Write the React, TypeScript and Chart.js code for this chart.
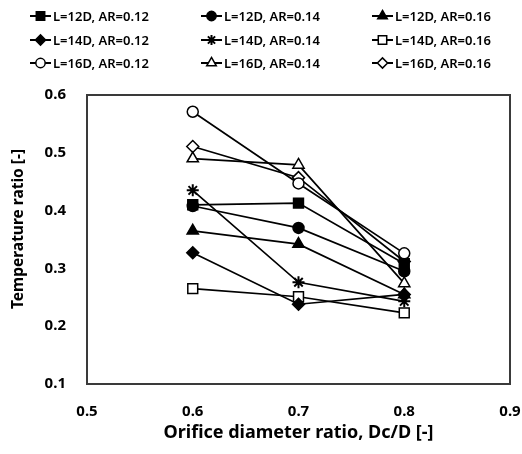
import React, { useEffect, useRef } from 'react';
import { Chart, registerables } from 'chart.js';
import { drawPoint } from 'chart.js/helpers';

Chart.register(...registerables);

// Orifice diameter ratio, Dc/D
const xValues = [0.6, 0.7, 0.8];

const seriesLabels = [
  'L=12D, AR=0.12',
  'L=12D, AR=0.14',
  'L=12D, AR=0.16',
  'L=14D, AR=0.12',
  'L=14D, AR=0.14',
  'L=14D, AR=0.16',
  'L=16D, AR=0.12',
  'L=16D, AR=0.14',
  'L=16D, AR=0.16',
];

const l12ar12 = [0.410, 0.413, 0.308];
const l12ar14 = [0.408, 0.370, 0.295];
const l12ar16 = [0.365, 0.342, 0.255];
const l14ar12 = [0.327, 0.238, 0.255];
const l14ar14 = [0.435, 0.276, 0.243];
const l14ar16 = [0.265, 0.251, 0.223];
const l16ar12 = [0.571, 0.447, 0.326];
const l16ar14 = [0.490, 0.479, 0.274];
const l16ar16 = [0.511, 0.457, 0.312];

const seriesValues = [l12ar12, l12ar14, l12ar16, l14ar12, l14ar14, l14ar16, l16ar12, l16ar14, l16ar16];

const xTicks = [0.5, 0.6, 0.7, 0.8, 0.9];
const yTicks = [0.1, 0.2, 0.3, 0.4, 0.5, 0.6];

const xTitle = 'Orifice diameter ratio, Dc/D [-]';
const yTitle = 'Temperature ratio [-]';

const markers = [
  { style: 'rect', filled: true, radius: 7 },
  { style: 'circle', filled: true, radius: 5.5 },
  { style: 'triangle', filled: true, radius: 6.5 },
  { style: 'rectRot', filled: true, radius: 6 },
  { style: 'star', filled: false, radius: 6 },
  { style: 'rect', filled: false, radius: 7 },
  { style: 'circle', filled: false, radius: 5.5 },
  { style: 'triangle', filled: false, radius: 6.5 },
  { style: 'rectRot', filled: false, radius: 6 },
];

const FONT = '"Noto Sans", "DejaVu Sans", sans-serif';

const framePlugin = {
  id: 'frame',
  beforeDatasetsDraw(chart: any) {
    const { ctx, chartArea } = chart;
    ctx.save();
    ctx.strokeStyle = '#3a3a3a';
    ctx.lineWidth = 2;
    ctx.strokeRect(chartArea.left, chartArea.top, chartArea.right - chartArea.left, chartArea.bottom - chartArea.top);
    ctx.restore();
  },
};

const titlesPlugin = {
  id: 'axisTitles',
  afterDraw(chart: any) {
    const { ctx, chartArea } = chart;
    ctx.save();
    ctx.fillStyle = '#000';
    ctx.textAlign = 'center';
    ctx.textBaseline = 'middle';
    ctx.font = `bold 18px ${FONT}`;
    ctx.fillText(xTitle, (chartArea.left + chartArea.right) / 2, 433);
    ctx.translate(19, 229);
    ctx.rotate(-Math.PI / 2);
    ctx.font = `bold 15.5px ${FONT}`;
    ctx.fillText(yTitle, 0, 0);
    ctx.restore();
  },
};

const legendPlugin = {
  id: 'customLegend',
  afterDraw(chart: any) {
    const { ctx } = chart;
    const colX = [30, 201, 372];
    const rowY = [16, 40, 63];
    ctx.save();
    seriesLabels.forEach((label, i) => {
      const x = colX[i % 3];
      const y = rowY[Math.floor(i / 3)];
      const m = markers[i];
      ctx.strokeStyle = '#000';
      ctx.lineWidth = 2;
      ctx.beginPath();
      ctx.moveTo(x, y);
      ctx.lineTo(x + 21, y);
      ctx.stroke();
      ctx.fillStyle = m.filled ? '#000' : '#fff';
      ctx.strokeStyle = '#000';
      ctx.lineWidth = m.style === 'star' ? 2 : 1.5;
      drawPoint(ctx, { pointStyle: m.style, rotation: 0, radius: m.radius * 0.85, borderWidth: ctx.lineWidth } as any, x + 10.5, y);
      ctx.fillStyle = '#000';
      ctx.font = `600 13px ${FONT}`;
      ctx.textBaseline = 'middle';
      ctx.textAlign = 'left';
      ctx.fillText(label, x + 23, y + 1);
    });
    ctx.restore();
  },
};

export default function App() {
  const canvasRef = useRef<HTMLCanvasElement | null>(null);

  useEffect(() => {
    const canvas = canvasRef.current;
    if (!canvas) return;
    const datasets = seriesLabels.map((label, i) => ({
      label,
      data: xValues.map((x, j) => ({ x, y: seriesValues[i][j] })),
      borderColor: '#000',
      borderWidth: 1.7,
      backgroundColor: markers[i].filled ? '#000' : '#fff',
      pointBackgroundColor: markers[i].filled ? '#000' : '#fff',
      pointBorderColor: '#000',
      pointBorderWidth: markers[i].style === 'star' ? 2 : 1.5,
      pointStyle: markers[i].style,
      pointRadius: markers[i].radius,
      pointHoverRadius: markers[i].radius,
      showLine: true,
      fill: false,
      tension: 0,
    }));

    const zeroPad = (s: any) => {
      s.paddingLeft = 0;
      s.paddingRight = 0;
      s.paddingTop = 0;
      s.paddingBottom = 0;
    };

    const chart = new Chart(canvas, {
      type: 'scatter',
      data: { datasets: datasets as any },
      plugins: [framePlugin, legendPlugin, titlesPlugin],
      options: {
        responsive: false,
        animation: false,
        devicePixelRatio: 1,
        layout: { padding: { top: 95, right: 12, left: 0, bottom: 0 } },
        plugins: { legend: { display: false }, tooltip: { enabled: false } },
        scales: {
          x: {
            type: 'linear',
            min: 0.5,
            max: 0.9,
            afterBuildTicks: (s: any) => { s.ticks = xTicks.map((v) => ({ value: v })); },
            afterFit: (s: any) => { s.height = 70; zeroPad(s); },
            grid: { display: false, drawTicks: false },
            border: { display: false },
            ticks: {
              padding: 19,
              color: '#000',
              font: { family: FONT, size: 15, weight: 'bold' },
              callback: (v: any) => Number(v).toFixed(1),
            },
            title: { display: false },
          },
          y: {
            type: 'linear',
            min: 0.1,
            max: 0.6,
            afterBuildTicks: (s: any) => { s.ticks = yTicks.map((v) => ({ value: v })); },
            afterFit: (s: any) => { s.width = 87; zeroPad(s); },
            grid: { display: false, drawTicks: false },
            border: { display: false },
            ticks: {
              padding: 21,
              color: '#000',
              font: { family: FONT, size: 15, weight: 'bold' },
              callback: (v: any) => Number(v).toFixed(1),
            },
            title: { display: false },
          },
        },
      },
    });
    return () => chart.destroy();
  }, []);

  return (
    <div style={{ position: 'absolute', left: 0, top: 0, width: 522, height: 454, background: '#fff' }}>
      <canvas ref={canvasRef} width={522} height={454} style={{ display: 'block' }} />
    </div>
  );
}
